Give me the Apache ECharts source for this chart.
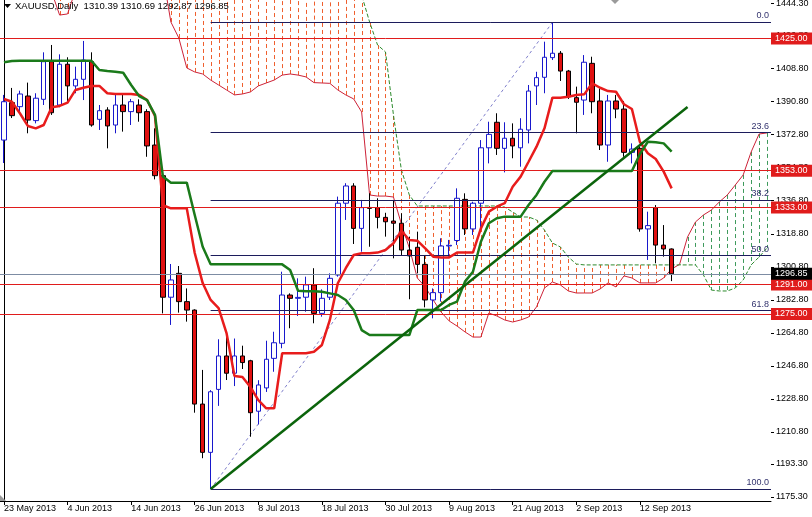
<!DOCTYPE html>
<html><head><meta charset="utf-8">
<script src="https://cdn.jsdelivr.net/npm/echarts@6/dist/echarts.min.js"></script>
<style>html,body{margin:0;padding:0;background:#fff}#c{width:812px;height:517px}</style>
</head><body><div id="c"></div>
<script>
// ---- categories (trading days, plus future days used by the shifted cloud)
const dates = ["23 May 2013","24 May 2013","27 May 2013","28 May 2013","29 May 2013","30 May 2013","31 May 2013",
"3 Jun 2013","4 Jun 2013","5 Jun 2013","6 Jun 2013","7 Jun 2013","10 Jun 2013","11 Jun 2013","12 Jun 2013","13 Jun 2013","14 Jun 2013","17 Jun 2013","18 Jun 2013","19 Jun 2013","20 Jun 2013","21 Jun 2013","24 Jun 2013","25 Jun 2013","26 Jun 2013","27 Jun 2013","28 Jun 2013",
"1 Jul 2013","2 Jul 2013","3 Jul 2013","4 Jul 2013","5 Jul 2013","8 Jul 2013","9 Jul 2013","10 Jul 2013","11 Jul 2013","12 Jul 2013","15 Jul 2013","16 Jul 2013","17 Jul 2013","18 Jul 2013","19 Jul 2013","22 Jul 2013","23 Jul 2013","24 Jul 2013","25 Jul 2013","26 Jul 2013","29 Jul 2013","30 Jul 2013","31 Jul 2013",
"1 Aug 2013","2 Aug 2013","5 Aug 2013","6 Aug 2013","7 Aug 2013","8 Aug 2013","9 Aug 2013","12 Aug 2013","13 Aug 2013","14 Aug 2013","15 Aug 2013","16 Aug 2013","19 Aug 2013","20 Aug 2013","21 Aug 2013","22 Aug 2013","23 Aug 2013","26 Aug 2013","27 Aug 2013","28 Aug 2013","29 Aug 2013","30 Aug 2013",
"2 Sep 2013","3 Sep 2013","4 Sep 2013","5 Sep 2013","6 Sep 2013","9 Sep 2013","10 Sep 2013","11 Sep 2013","12 Sep 2013","13 Sep 2013","16 Sep 2013","17 Sep 2013","18 Sep 2013",
"19 Sep 2013","20 Sep 2013","23 Sep 2013","24 Sep 2013","25 Sep 2013","26 Sep 2013","27 Sep 2013","30 Sep 2013","1 Oct 2013","2 Oct 2013","3 Oct 2013","4 Oct 2013"];

// ---- daily candles
const open  = [1369.7,1390.1,1387.9,1393.7,1380.3,1391.9,1412.4,1388.8,1411.0,1399.2,1402.8,1412.4,1381.0,1386.1,1377.9,1388.8,1385.2,1388.8,1385.2,1367.0,1350.3,1284.1,1297.1,1281.7,1277.1,1225.9,1199.6,1233.9,1252.1,1242.7,1252.1,1249.5,1222.0,1234.7,1250.8,1259.0,1285.3,1283.5,1284.1,1290.8,1275.3,1284.1,1296.2,1335.3,1344.7,1321.6,1333.0,1332.9,1327.6,1325.6,1324.4,1309.8,1311.3,1302.0,1282.6,1286.6,1312.0,1315.0,1337.4,1321.3,1335.3,1365.5,1379.4,1365.2,1370.7,1365.5,1375.2,1399.2,1403.9,1414.6,1417.0,1407.3,1392.8,1391.5,1411.5,1391.0,1367.0,1391.0,1386.6,1363.0,1365.2,1321.3,1332.9,1312.5,1310.39];
const high  = [1394.3,1398.1,1396.6,1401.0,1395.2,1417.5,1421.5,1416.4,1414.8,1409.7,1423.7,1417.5,1388.8,1387.6,1394.3,1394.3,1392.1,1391.9,1386.5,1376.1,1352.5,1302.2,1301.1,1288.9,1277.5,1244.5,1233.5,1261.2,1262.6,1261.6,1257.7,1250.0,1238.9,1260.4,1265.3,1298.0,1286.2,1294.4,1295.3,1299.9,1288.4,1297.1,1338.9,1346.2,1346.2,1337.1,1340.7,1338.0,1330.1,1337.1,1329.8,1317.1,1319.8,1307.1,1288.9,1316.2,1315.3,1343.4,1340.7,1336.1,1369.7,1379.7,1384.3,1379.4,1378.8,1381.6,1399.7,1406.9,1423.3,1433.8,1418.2,1407.9,1398.8,1416.0,1415.1,1397.9,1394.3,1394.3,1391.0,1367.9,1366.1,1330.7,1334.3,1323.4,1310.69];
const low   = [1357.2,1381.7,1385.2,1373.4,1378.8,1388.8,1383.4,1387.6,1390.1,1395.2,1391.5,1377.0,1375.2,1365.2,1373.4,1374.3,1377.9,1379.7,1360.6,1348.3,1275.3,1269.0,1275.7,1270.8,1221.2,1196.4,1179.6,1224.9,1239.0,1235.7,1245.0,1208.1,1214.8,1232.5,1243.5,1256.3,1267.2,1273.9,1276.2,1269.9,1273.5,1282.6,1295.3,1326.2,1313.1,1308.9,1311.6,1321.6,1317.1,1305.3,1307.1,1283.0,1297.1,1278.6,1272.6,1281.7,1306.2,1312.5,1318.0,1318.0,1321.6,1357.0,1361.6,1352.1,1359.8,1355.2,1367.9,1388.8,1395.2,1413.3,1401.9,1392.1,1373.4,1383.4,1384.3,1364.3,1357.9,1381.6,1360.6,1357.0,1319.8,1304.4,1302.6,1306.2,1292.87];
const close = [1390.6,1383.0,1394.8,1380.6,1392.5,1412.4,1384.6,1411.0,1399.2,1402.8,1413.3,1377.9,1385.7,1377.4,1388.8,1385.2,1390.6,1384.6,1366.5,1350.3,1284.1,1293.5,1281.7,1277.1,1225.9,1199.6,1232.6,1252.1,1242.7,1252.1,1248.5,1221.2,1236.3,1250.3,1259.3,1285.3,1283.5,1284.0,1290.8,1275.3,1283.5,1294.4,1335.3,1344.7,1321.6,1332.9,1332.5,1327.6,1325.2,1324.4,1309.8,1306.6,1302.0,1282.6,1286.6,1312.0,1312.4,1338.0,1321.3,1335.3,1365.5,1372.8,1365.2,1370.7,1366.5,1375.6,1396.4,1403.7,1414.8,1417.0,1407.3,1393.3,1390.3,1412.1,1390.6,1367.0,1391.0,1386.6,1363.0,1364.8,1321.3,1323.1,1312.5,1310.4,1296.85];

// ---- Ichimoku lines
const tenkan = [1392.1,1390.6,1384.3,1377.4,1376.1,1377.9,1387.6,1388.3,1390.1,1397.0,1398.2,1399.2,1399.2,1395.2,1394.8,1394.8,1394.8,1394.3,1391.5,1382.8,1334.3,1332.5,1332.5,1332.5,1308.2,1291.8,1282.6,1278.2,1264.6,1241.2,1240.6,1235.2,1228.1,1223.6,1223.6,1253.6,1253.6,1253.6,1253.6,1254.4,1258.1,1271.7,1291.7,1299.9,1307.1,1308.0,1308.0,1308.4,1309.8,1313.5,1320.3,1315.3,1314.9,1310.7,1306.2,1305.8,1305.8,1308.4,1308.4,1308.4,1321.6,1330.7,1333.4,1335.3,1344.3,1349.8,1357.9,1366.1,1376.1,1392.8,1392.8,1393.3,1394.3,1394.6,1400.6,1398.2,1396.4,1396.0,1389.2,1386.6,1368.8,1362.5,1359.4,1352.5,1343.4];
const kijun  = [1412.1,1412.8,1412.9,1412.9,1412.9,1412.9,1412.9,1412.9,1412.9,1412.9,1412.9,1412.9,1407.9,1407.3,1406.9,1406.4,1399.7,1393.7,1391.5,1383.4,1349.8,1346.5,1346.5,1346.5,1328.9,1311.6,1302.0,1302.0,1302.0,1302.0,1302.0,1302.0,1302.0,1302.0,1302.0,1302.0,1298.9,1287.6,1287.4,1287.4,1287.1,1286.2,1285.3,1282.6,1277.1,1266.2,1263.5,1263.5,1263.5,1263.5,1263.5,1263.5,1277.1,1277.1,1277.1,1277.1,1279.9,1281.7,1292.6,1298.0,1314.3,1324.4,1327.1,1328.0,1328.0,1328.0,1334.3,1339.8,1347.0,1352.9,1352.9,1352.9,1352.9,1352.9,1352.9,1352.9,1352.9,1352.9,1352.9,1352.9,1362.0,1368.8,1368.5,1367.9,1363.4];
const spanA  = [1452,1455,1456,1455,1452,1449,1450.4,1437.8,1438.4,1451.4,1455,1458,1460,1460,1458,1456,1455,1452,1450,1450,1459.6,1434.0,1425.3,1409.0,1406.8,1405.7,1402.4,1399.7,1397.0,1394.3,1394.8,1395.9,1399.2,1400.8,1402.4,1405.1,1405.7,1405.1,1404.1,1401.0,1400.8,1400.6,1397.0,1394.3,1392.1,1385.0,1339.8,1339.2,1339.2,1338.7,1324.0,1310.9,1294.6,1289.7,1282.6,1276.0,1271.2,1268.4,1265.2,1262.4,1262.4,1275.5,1273.9,1271.7,1270.6,1271.7,1273.3,1278.8,1289.1,1292.4,1290.8,1287.5,1286.4,1286.4,1286.4,1288.6,1291.9,1289.7,1295.7,1294.6,1291.9,1291.9,1291.9,1294.6,1299.5,1302.0,1316.9,1325.1,1328.9,1331.6,1336.0,1339.8,1345.2,1350.7,1363.2,1373.0,1373.6];
const spanB  = [1478,1478,1478,1478,1478,1478,1478,1478,1478,1478,1478,1478,1478,1478,1478,1478,1478,1478,1478,1476,1472,1470,1468,1468,1468,1466,1466,1466,1466,1466,1466,1466,1466,1466,1466,1466,1466,1464,1462,1460,1458,1456,1454,1452,1450,1448.7,1434.0,1421.5,1417.7,1383.4,1353.4,1339.8,1333.8,1333.8,1333.8,1333.8,1333.8,1333.8,1333.8,1333.8,1333.8,1333.8,1333.8,1333.2,1330.5,1327.8,1327.8,1326.2,1320.7,1313.6,1311.5,1306.0,1302.2,1301.7,1301.7,1301.7,1301.7,1301.7,1301.7,1301.7,1301.7,1301.7,1301.7,1301.7,1301.7,1301.7,1301.7,1301.7,1296.2,1288.0,1287.5,1287.5,1289.1,1293.5,1301.7,1306.0,1310.9];

// ---- drawn objects and axis labels
const levelLines = [1425.00, 1353.00, 1333.00, 1291.00, 1275.00];
const lastPrice = 1296.85;
const fibNames  = ['0.0','23.6','38.2','50.0','61.8','100.0'];
const fibValues = [1433.8, 1373.8, 1336.8, 1306.7, 1276.8, 1179.6];
const fibStart = 26;
const fibDiagonal = [[26, 1179.6], [69, 1433.8]];
const trendLine   = [[26, 1179.6], [86, 1387.7]];
const yTickLabels = [1175.30,1193.30,1210.80,1228.80,1246.80,1264.80,1282.80,1300.80,1318.80,1336.80,1354.80,1372.80,1390.80,1408.80,1426.80,1444.30];
const titleText = 'XAUUSD,Daily  1310.39 1310.69 1292.87 1296.85';

const FONT = "'Liberation Sans', Arial, sans-serif";
const XMAX = 96.5;
const chart = echarts.init(document.getElementById('c'), null, {renderer: 'canvas'});
const showIdx = (i) => i % 8 === 0 && i <= 80;

const markData = levelLines.map(v => ({
  yAxis: v, name: v.toFixed(2),
  lineStyle: {color: '#e01c1c', width: 1, type: 'solid'},
  label: {show: true, position: 'end', formatter: '{b}', color: '#fff', backgroundColor: '#e01c1c',
          padding: [2, 5, 1, 4], fontSize: 9, fontFamily: FONT, distance: 0}
}));
markData.push({
  yAxis: lastPrice, name: lastPrice.toFixed(2),
  lineStyle: {color: '#7d8ca3', width: 1, type: 'solid'},
  label: {show: true, position: 'end', formatter: '{b}', color: '#fff', backgroundColor: '#000',
          padding: [2, 5, 1, 4], fontSize: 9, fontFamily: FONT, distance: 0}
});
fibValues.forEach((v, k) => {
  markData.push([
    {name: fibNames[k], coord: [fibStart, v],
     lineStyle: {color: '#1c1c5c', width: 1, type: 'solid'},
     label: {show: true, position: 'insideEndTop', formatter: '{b}', color: '#33336e', fontSize: 9, fontFamily: FONT, distance: 2}},
    {coord: [XMAX, v]}
  ]);
});

chart.setOption({
  animation: false,
  backgroundColor: '#ffffff',
  grid: {left: -4, right: 41, top: 0, bottom: 16, containLabel: false},
  xAxis: [{
    type: 'category', data: dates, boundaryGap: true, gridIndex: 0,
    axisLine: {show: true, lineStyle: {color: '#000', width: 1}},
    axisTick: {show: true, interval: showIdx, alignWithLabel: true, length: 4, lineStyle: {color: '#000'}},
    axisLabel: {show: true, interval: showIdx, align: 'left', margin: 3, fontSize: 9, fontFamily: FONT, color: '#000'},
    splitLine: {show: false}
  }, {
    type: 'value', min: -0.5, max: XMAX, show: false, gridIndex: 0,
    axisTick: {show: false}, axisLine: {show: false}, axisLabel: {show: false}, splitLine: {show: false}
  }],
  yAxis: [{
    type: 'value', position: 'right', min: 1173.1, max: 1446.0,
    axisLine: {show: true, lineStyle: {color: '#000', width: 1}},
    axisTick: {show: false},
    axisLabel: {show: false},
    splitLine: {show: false}
  }],
  series: [
    { // price scale labels and ticks on the right axis, placed through the y scale
      type: 'custom', xAxisIndex: 1, yAxisIndex: 0, z: 1, clip: false, silent: true,
      encode: {x: 0, y: 1},
      data: yTickLabels.map(v => [XMAX, v]),
      renderItem: (params, api) => {
        const v = api.value(1);
        const p = api.coord([XMAX, v]);
        const yy = Math.round(p[1]) + 0.5;
        return {type: 'group', children: [
          {type: 'line', shape: {x1: p[0], y1: yy, x2: p[0] + 3, y2: yy}, style: {stroke: '#000', lineWidth: 1}},
          {type: 'text', x: p[0] + 5, y: p[1], style: {text: v.toFixed(2), fill: '#000', font: '9px ' + FONT, verticalAlign: 'middle', align: 'left'}}
        ]};
      }
    },
    { // cloud hatching
      type: 'custom', xAxisIndex: 0, yAxisIndex: 0, z: 1, clip: true, silent: true,
      encode: {x: 0, y: [1, 2]},
      data: spanA.map((a, i) => [i, a, spanB[i]]),
      renderItem: (params, api) => {
        const i = api.value(0), a = api.value(1), b = api.value(2);
        const p1 = api.coord([i, a]), p2 = api.coord([i, b]);
        const x = Math.round(p1[0]) + 0.5;
        return {type: 'line', shape: {x1: x, y1: p1[1], x2: x, y2: p2[1]},
          style: {stroke: b > a ? '#ef5f2e' : '#3e9a5c', lineWidth: 1, lineDash: [4, 3]}};
      }
    },
    {type: 'line', name: 'Senkou A', xAxisIndex: 0, data: spanA, symbol: 'none', z: 2, silent: true,
     lineStyle: {color: '#cc2238', width: 1}},
    {type: 'line', name: 'Senkou B', xAxisIndex: 0, data: spanB, symbol: 'none', z: 2, silent: true,
     lineStyle: {color: '#2c8a2c', width: 1, type: [4, 2]}},
    {type: 'line', name: 'fib', xAxisIndex: 1, data: fibDiagonal, symbol: 'none', z: 3, silent: true,
     lineStyle: {color: '#7f7fcc', width: 1, type: [3, 3]},
     markLine: {silent: true, symbol: ['none', 'none'], animation: false, data: markData}},
    {type: 'candlestick', xAxisIndex: 0, z: 4, barWidth: 5, silent: true,
     data: open.map((o, i) => [o, close[i], low[i], high[i]]),
     itemStyle: {color: '#ffffff', color0: '#e01010', borderColor: '#1818cc', borderColor0: '#000000', borderWidth: 1}},
    {type: 'line', name: 'Tenkan', xAxisIndex: 0, data: tenkan, symbol: 'none', z: 5, silent: true,
     lineStyle: {color: '#e81c1c', width: 2.5}},
    {type: 'line', name: 'Kijun', xAxisIndex: 0, data: kijun, symbol: 'none', z: 5, silent: true,
     lineStyle: {color: '#1a7a1a', width: 2.5}},
    {type: 'line', name: 'trend', xAxisIndex: 1, data: trendLine, symbol: 'none', z: 6, silent: true,
     lineStyle: {color: '#0b640b', width: 2.5}}
  ],
  graphic: [
    {type: 'polygon', left: 4, top: 4, z: 100, shape: {points: [[0, 0], [7, 0], [3.5, 4]]}, style: {fill: '#000'}},
    {type: 'text', left: 15, top: 1, z: 100, style: {text: titleText, fill: '#000', font: '9.5px ' + FONT}},
    {type: 'polygon', left: 611, top: 0, z: 100, shape: {points: [[0, 0], [8, 0], [4, 4]]}, style: {fill: '#9a9a9a'}},
    {type: 'polygon', left: 0, top: 495, z: 100, shape: {points: [[0, 0], [6, 6], [0, 6]]}, style: {fill: '#9a9a9a'}}
  ]
});
</script>
</body></html>
